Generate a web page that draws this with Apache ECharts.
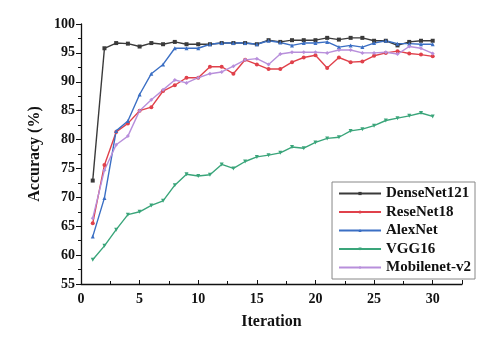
<!DOCTYPE html>
<html><head><meta charset="utf-8">
<script src="https://cdn.jsdelivr.net/npm/echarts@6/dist/echarts.min.js"></script>
<style>html,body{margin:0;padding:0;background:#fff}#c{width:500px;height:340px}</style>
</head><body><div id="c"></div>
<script>
const iterations = [1,2,3,4,5,6,7,8,9,10,11,12,13,14,15,16,17,18,19,20,21,22,23,24,25,26,27,28,29,30];
const denseNet121 = [72.9,95.8,96.7,96.6,96.1,96.7,96.5,96.9,96.5,96.5,96.5,96.7,96.7,96.7,96.5,97.2,96.9,97.2,97.2,97.2,97.6,97.3,97.6,97.6,97.1,97.1,96.3,96.9,97.1,97.1];
const reseNet18 = [65.5,75.6,81.3,82.8,85.0,85.6,88.4,89.4,90.7,90.7,92.6,92.6,91.4,93.8,93.0,92.2,92.2,93.4,94.2,94.6,92.4,94.2,93.4,93.5,94.5,95.0,95.3,94.9,94.7,94.4];
const alexNet = [63.2,69.9,81.5,83.2,87.8,91.4,93.0,95.8,95.8,95.8,96.5,96.7,96.7,96.7,96.5,97.1,96.8,96.3,96.7,96.7,96.9,96.0,96.3,96.0,96.7,97.1,96.6,96.6,96.5,96.5];
const vgg16 = [59.2,61.6,64.4,67.0,67.5,68.6,69.4,72.1,74.0,73.7,73.9,75.7,75.0,76.2,77.0,77.3,77.7,78.7,78.5,79.5,80.2,80.4,81.5,81.8,82.4,83.3,83.7,84.1,84.6,84.0];
const mobilenetV2 = [66.4,74.7,79.1,80.6,85.0,86.9,88.6,90.3,89.8,90.7,91.4,91.7,92.7,93.8,94.0,93.0,94.8,95.1,95.1,95.1,95.0,95.5,95.5,95.0,95.0,95.1,94.8,96.1,95.8,94.9];
const yTicks = [55,60,65,70,75,80,85,90,95,100];

const seriesDefs = [
  {name:'DenseNet121', data:denseNet121, color:'#3a3a3a', symbol:'rect'},
  {name:'ReseNet18', data:reseNet18, color:'#e0414b', symbol:'circle'},
  {name:'AlexNet', data:alexNet, color:'#3b6fc4', symbol:'triangle'},
  {name:'VGG16', data:vgg16, color:'#3aa57a', symbol:'path://M0,0 L10,0 L5,10 Z'},
  {name:'Mobilenet-v2', data:mobilenetV2, color:'#b88fdb', symbol:'diamond'}
];
const font = 'Liberation Serif';
const chart = echarts.init(document.getElementById('c'), null, {renderer:'canvas'});
chart.setOption({
  animation:false,
  backgroundColor:'#fff',
  grid:{left:81, right:38, top:24, bottom:56},
  legend:{
    orient:'vertical', right:25, top:182, itemWidth:42, itemHeight:4, itemGap:3.5,
    borderColor:'#888', borderWidth:1, padding:[4,4,4,6],
    textStyle:{fontFamily:font, fontWeight:'bold', fontSize:15, color:'#111'},
    data: seriesDefs.map(s=>s.name)
  },
  xAxis:{
    type:'value', min:0, max:32.5, interval:5,
    name:'Iteration', nameLocation:'middle', nameGap:30,
    nameTextStyle:{fontFamily:font, fontWeight:'bold', fontSize:16, color:'#111'},
    axisLine:{show:true, lineStyle:{color:'#111', width:1.3}},
    axisTick:{show:true, inside:true, length:4, lineStyle:{color:'#111'}},
    minorTick:{show:true, splitNumber:2, length:3, lineStyle:{color:'#111'}},
    splitLine:{show:false},
    axisLabel:{fontFamily:font, fontWeight:'bold', fontSize:14, color:'#111', margin:8,
      formatter:v=> (v%5===0 ? String(v) : '')}
  },
  yAxis:{
    type:'value', min:yTicks[0], max:yTicks[yTicks.length-1], interval:5,
    name:'Accuracy (%)', nameLocation:'middle', nameGap:38,
    nameTextStyle:{fontFamily:font, fontWeight:'bold', fontSize:16, color:'#111'},
    axisLine:{show:true, lineStyle:{color:'#111', width:1.3}},
    axisTick:{show:true, length:5, lineStyle:{color:'#111'}},
    minorTick:{show:true, splitNumber:2, length:3, lineStyle:{color:'#111'}},
    splitLine:{show:false},
    axisLabel:{fontFamily:font, fontWeight:'bold', fontSize:14, color:'#111', margin:6}
  },
  series: seriesDefs.map(s=>({
    name:s.name, type:'line', symbol:s.symbol, symbolSize:4, showAllSymbol:true,
    data: iterations.map((x,i)=>[x, s.data[i]]),
    itemStyle:{color:s.color}, lineStyle:{color:s.color, width:1.4}
  }))
});
</script></body></html>
